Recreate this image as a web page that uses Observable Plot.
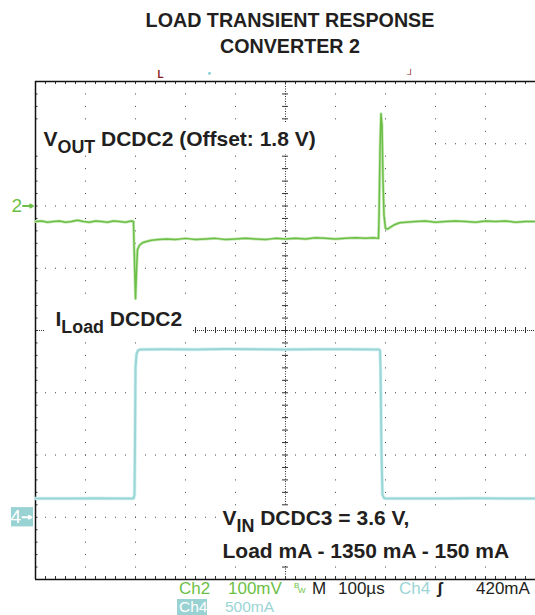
<!DOCTYPE html>
<html><head><meta charset="utf-8">
<script src="https://cdn.jsdelivr.net/npm/d3@7"></script>
<script src="https://cdn.jsdelivr.net/npm/@observablehq/plot@0.6"></script>
<style>
body{margin:0;background:#fff;width:535px;height:615px;overflow:hidden;font-family:"Liberation Sans",Arial,sans-serif;}
#title{box-sizing:border-box;height:60px;padding:7px 0 0 45px;text-align:center;font-weight:bold;font-size:19.7px;line-height:26px;color:#231f20;}
#chart svg{display:block;}
#readout{position:relative;height:33px;font-size:17px;line-height:17px;}
#readout span{position:absolute;white-space:pre;}
</style></head><body>
<div id="title"></div>
<div id="chart"></div>
<div id="readout"></div>
<script>
// ---- data (time in µs, Ch2 in mV relative to 1.8 V offset, Ch4 in mA) ----
const greenTime = [0,12,24,36,48,60,72,84,96,108,120,132,144,156,168,180,192,196,
  197,200,202,204,208,214,222,232,246,262,280,300,320,340,360,380,400,420,440,460,480,500,
  520,540,560,580,600,620,640,660,676,686,
  687,689,691,693,695,697,700,704,710,718,728,740,
  760,780,800,820,840,860,880,900,920,940,960,980,1000];
const greenMV = [-25,-24,-26,-25,-24,-26,-25,-23,-25,-26,-24,-25,-26,-24,-25,-26,-24,-25,
  -60,-149,-105,-70,-63,-59,-57,-55,-54,-53,-54,-52,-54,-53,-52,-54,-53,-52,-53,-54,-52,-53,
  -52,-53,-51,-52,-53,-52,-51,-52,-51,-52,
  -20,90,148,130,40,-15,-36,-37,-34,-30,-27,-26,
  -25,-24,-26,-25,-24,-25,-26,-24,-25,-24,-26,-25,-25];
const cyanTime = [0,40,80,120,160,196,198,199,200,202,205,210,260,320,380,440,500,560,620,680,
  687,689,690,692,694,697,700,760,820,880,940,1000];
const cyanMA = [150,151,150,152,150,150,180,600,1200,1310,1340,1348,1350,1348,1351,1349,1348,1350,1349,1348,
  1348,1340,1200,500,180,155,150,151,150,152,150,151];

// channel settings
const ch2Pos = 2, ch2Scale = 100;   // div, mV/div
const ch4Pos = -3, ch4Scale = 500;  // div, mA/div

// annotation texts
const labelMain = ["V", "I", "V"];
const labelSub  = ["OUT", "Load", "IN"];
const labelRest = [" DCDC2 (Offset: 1.8 V)", " DCDC2", " DCDC3 = 3.6 V,"];
const extraText = ["Load mA - 1350 mA - 150 mA"];
const titleLines = ["LOAD TRANSIENT RESPONSE", "CONVERTER 2"];

// readout texts
const readout1 = ["Ch2", "100mV", "M", "100µs", "Ch4", "ʃ", "420mA"];
const readout2 = ["Ch4", "500mA"];

// ---- layout (positions/styles) ----
const labelX = [16, 40, 374];
const labelY = [2.956, 0.08, -3.117];
const extraX = [374], extraY = [-3.66];
const boxes = [
  {x1: 0, x2: 790, y1: 3.34, y2: 2.827},
  {x1: 20, x2: 314, y1: 0.514, y2: -0.16},
  {x1: 366, x2: 990, y1: -2.827, y2: -3.775}
];
const green = "#6cbf46", greenHalo = "#c8e8b8";
const cyan = "#9bd5d5", cyanHalo = "#d2f0f0";
const ink = "#231f20";
const r1Left = [179, 228, 312, 338, 399, 437, 476];
const r1Color = [green, green, ink, ink, cyan, ink, ink];
const r2Left = [179, 225];
const r2Color = ["#fff", cyan];

document.getElementById("title").innerHTML = titleLines.join("<br>");

const pxX = 500 / 1000, pxY = 498 / 8;
const tx = p => p / pxX, ty = p => p / pxY;

const greenData = greenTime.map((t, i) => ({t, v: ch2Pos + greenMV[i] / ch2Scale}));
const cyanData = cyanTime.map((t, i) => ({t, v: ch4Pos + cyanMA[i] / ch4Scale}));
const idx = labelMain.map((_, i) => i);
const ticksX = d3.range(20, 1000, 20);
const ticksY = d3.range(-19, 20).map(k => k / 5);

const chart = Plot.plot({
  width: 535, height: 522,
  marginTop: 21, marginBottom: 3, marginLeft: 35, marginRight: 0,
  x: {domain: [0, 1000], axis: null},
  y: {domain: [-4, 4], axis: null},
  style: {background: "white", overflow: "visible", fontFamily: '"Liberation Sans", Arial, sans-serif'},
  marks: [
    Plot.ruleY([-3, -2, -1, 1, 2, 3], {stroke: "#444", strokeDasharray: "1,9"}),
    Plot.ruleX([100, 200, 300, 400, 600, 700, 800, 900, 1000], {stroke: "#444", strokeDasharray: "1,11.45"}),
    Plot.ruleY([0], {stroke: "#333", strokeDasharray: "1,1"}),
    Plot.ruleX(ticksX, {y1: -ty(3), y2: ty(3), stroke: "#333"}),
    Plot.ruleX([500], {stroke: "#333", strokeDasharray: "1,1.5"}),
    Plot.ruleY(ticksY, {x1: 500 - tx(3), x2: 500 + tx(3), stroke: "#333"}),
    Plot.ruleX(ticksX, {y1: 4, y2: 4 - ty(3), stroke: "#333"}),
    Plot.ruleX(ticksX, {y1: -4, y2: -4 + ty(3), stroke: "#333"}),
    Plot.ruleY(ticksY, {x1: 0, x2: tx(2.5), stroke: "#333"}),
    Plot.rect(boxes, {x1: "x1", x2: "x2", y1: "y1", y2: "y2", fill: "white"}),
    Plot.ruleX([0], {stroke: "#111", strokeWidth: 1.5}),
    Plot.ruleY([4, -4], {stroke: "#111", strokeWidth: 1.5}),
    // traces
    Plot.line(cyanData, {x: "t", y: "v", stroke: cyanHalo, strokeWidth: 3.5}),
    Plot.line(cyanData, {x: "t", y: "v", stroke: cyan, strokeWidth: 2}),
    Plot.line(greenData, {x: "t", y: "v", stroke: greenHalo, strokeWidth: 3}),
    Plot.line(greenData, {x: "t", y: "v", stroke: green, strokeWidth: 1.5}),
    // annotations
    Plot.text(idx, {x: i => labelX[i], y: i => labelY[i], text: i => labelMain[i] + labelSub[i] + labelRest[i],
      textAnchor: "start", lineAnchor: "bottom", fontSize: 21, fontWeight: "bold", fill: ink}),
    Plot.text(extraText, {x: (d, i) => extraX[i], y: (d, i) => extraY[i], text: d => d,
      textAnchor: "start", lineAnchor: "bottom", fontSize: 21, fontWeight: "bold", fill: ink}),
    // channel markers
    Plot.text(["2"], {x: -25, y: ch2Pos, text: d => d, textAnchor: "end", lineAnchor: "middle", fontSize: 19, fill: green, dx: -1}),
    Plot.arrow([0], {x1: -25, x2: -5, y1: ch2Pos, y2: ch2Pos, stroke: green, strokeWidth: 1.8, headLength: 6}),
    Plot.rect([0], {x1: -48, x2: -4, y1: ch4Pos - 0.155, y2: ch4Pos + 0.155, fill: "#99d2d2"}),
    Plot.text(["4"], {x: -27, y: ch4Pos, text: d => d, textAnchor: "end", lineAnchor: "middle", fontSize: 19, fill: "#fff", dx: -1}),
    Plot.arrow([0], {x1: -26, x2: -8, y1: ch4Pos, y2: ch4Pos, stroke: "#fff", strokeWidth: 1.8, headLength: 6}),
    // top markers
    Plot.text(["L"], {x: 250, y: 4.11, text: d => d, fontSize: 10, fontWeight: "bold", fill: "#8b1e1e", lineAnchor: "middle"}),
    Plot.text(["┘"], {x: 750, y: 4.11, text: d => d, fontSize: 10, fontWeight: "bold", fill: "#8b1e1e", lineAnchor: "middle"}),
    Plot.dot([0], {x: 348, y: 4.13, r: 1.3, fill: "#7fcccc"})
  ]
});
document.getElementById("chart").appendChild(chart);

// subscripts
d3.select(chart).selectAll("text").each(function() {
  const s = this.textContent;
  const i = idx.findIndex(k => labelMain[k] + labelSub[k] + labelRest[k] === s);
  if (i < 0) return;
  const el = d3.select(this).text(null).style("white-space", "pre");
  el.append("tspan").text(labelMain[i]);
  el.append("tspan").attr("dy", 7).attr("font-size", "0.85em").text(labelSub[i]);
  el.append("tspan").attr("dy", -7).text(labelRest[i]);
});

// readout
const ro = d3.select("#readout");
ro.append("span").style("left", "177px").style("top", "16.7px").style("width", "30px").style("height", "17px").style("background", "#99d2d2");
readout1.forEach((s, i) => ro.append("span").style("left", r1Left[i] + "px").style("top", "-2.4px").style("color", r1Color[i])
  .style("font-weight", s === "ʃ" ? "bold" : "normal").text(s));
ro.append("span").style("left", "294px").style("top", "0px").style("font-size", "8px").style("line-height", "8px").style("color", green).text("B");
ro.append("span").style("left", "298px").style("top", "5px").style("font-size", "8px").style("line-height", "8px").style("color", green).text("W");
readout2.forEach((s, i) => ro.append("span").style("left", r2Left[i] + "px").style("top", "16.5px").style("font-size", "15.5px")
  .style("line-height", "15.5px").style("color", r2Color[i]).text(s));
</script>
</body></html>
